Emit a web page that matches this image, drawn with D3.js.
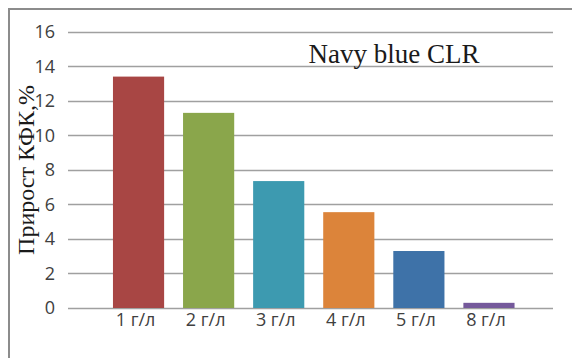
<!DOCTYPE html>
<html>
<head>
<meta charset="utf-8">
<script src="https://cdn.jsdelivr.net/npm/d3@7"></script>
<style>
  body { margin: 0; background: #fff; }
  svg { display: block; }
</style>
</head>
<body>
<script>
var width = 572, height = 358;

// chart data
var categories = ["1 г/л", "2 г/л", "3 г/л", "4 г/л", "5 г/л", "8 г/л"];
var values = [13.4, 11.3, 7.35, 5.55, 3.3, 0.3];
var colors = ["#A84644", "#8AA64B", "#3D9AB0", "#DC843A", "#3E72A8", "#75599B"];
var yTicks = [0, 2, 4, 6, 8, 10, 12, 14, 16];

var svg = d3.select("body").append("svg")
    .attr("width", width)
    .attr("height", height);

// outer frame (only top and left edges are visible)
svg.append("path")
    .attr("d", "M9,358V9H572")
    .attr("fill", "none")
    .attr("stroke", "#8c8c8c")
    .attr("stroke-width", 2);

var y = d3.scaleLinear()
    .domain([0, 16])
    .range([308, 31.7]);

var x = d3.scaleBand()
    .domain(categories)
    .range([103.5, 524])
    .paddingInner(0.27)
    .paddingOuter(0.135);

// gridlines
svg.append("g")
  .selectAll("line")
  .data(yTicks)
  .join("line")
    .attr("x1", 68)
    .attr("x2", 553)
    .attr("y1", d => Math.round(y(d)) + 0.5)
    .attr("y2", d => Math.round(y(d)) + 0.5)
    .attr("stroke", "#a0a0a0")
    .attr("stroke-width", 1.5);

// y tick labels
svg.append("g")
  .selectAll("text")
  .data(yTicks)
  .join("text")
    .attr("x", 55)
    .attr("y", d => y(d))
    .attr("dy", "0.36em")
    .attr("text-anchor", "end")
    .attr("font-family", "'Open Sans', 'DejaVu Sans', sans-serif")
    .attr("font-size", 18)
    .attr("fill", "#404040")
    .text(d => d);

// bars
svg.append("g")
  .selectAll("rect")
  .data(values)
  .join("rect")
    .attr("x", (d, i) => x(categories[i]))
    .attr("width", x.bandwidth())
    .attr("y", d => y(d))
    .attr("height", d => y(0) - y(d))
    .attr("fill", (d, i) => colors[i]);

// category labels
svg.append("g")
  .selectAll("text")
  .data(categories)
  .join("text")
    .attr("x", d => x(d) + x.bandwidth() / 2 - 3)
    .attr("y", 326)
    .attr("text-anchor", "middle")
    .attr("font-family", "'Open Sans', 'DejaVu Sans', sans-serif")
    .attr("font-size", 18)
    .attr("fill", "#404040")
    .text(d => d);

// y axis title
svg.append("text")
    .attr("transform", "translate(34,170) rotate(-90)")
    .attr("text-anchor", "middle")
    .attr("font-family", "'Liberation Serif', 'DejaVu Serif', serif")
    .attr("font-size", 24)
    .attr("fill", "#1a1a1a")
    .text("Прирост КФК,%");

// chart title
svg.append("text")
    .attr("x", 394)
    .attr("y", 63)
    .attr("text-anchor", "middle")
    .attr("font-family", "'Liberation Serif', 'DejaVu Serif', serif")
    .attr("font-size", 27)
    .attr("fill", "#1a1a1a")
    .text("Navy blue CLR");
</script>
</body>
</html>
